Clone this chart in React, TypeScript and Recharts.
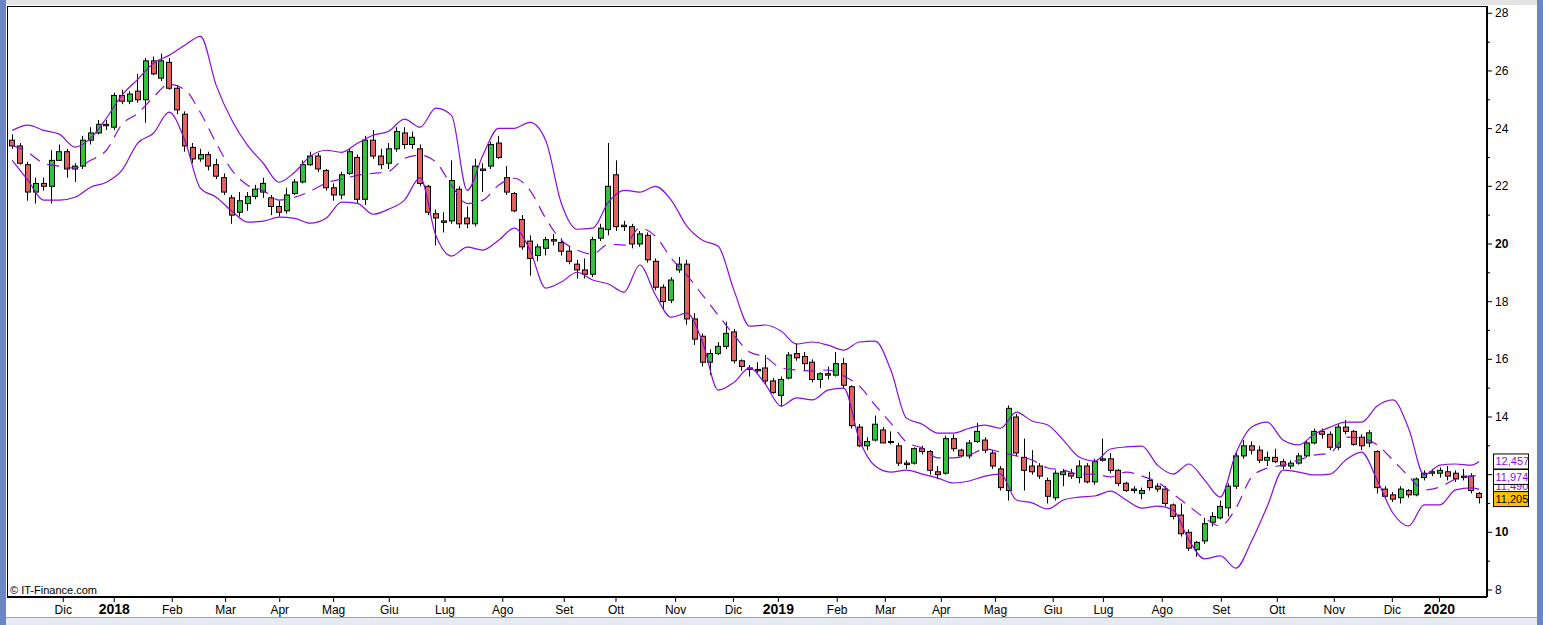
import React from "react";
import { ComposedChart, Bar, Line, XAxis, YAxis, ReferenceLine } from "recharts";

// 3-session candles, oldest first (Nov 2017 -> Jan 2020)
const opens = [
  23.6, 23.4, 22.75, 21.8, 22.1, 22.0, 22.9, 23.2, 22.6, 22.7,
  23.6, 23.85, 24.15, 24.05, 25.15, 24.95, 25.3, 25.0, 26.35, 25.75,
  26.3, 25.4, 24.5, 23.35, 22.95, 23.1, 22.75, 22.3, 21.6, 21.1,
  21.4, 21.65, 21.8, 21.6, 21.3, 21.15, 21.75, 22.15, 22.75, 23.05,
  22.55, 21.95, 21.7, 22.45, 23.0, 21.55, 23.6, 23.05, 22.8, 23.3,
  23.85, 23.45, 23.3, 22.0, 21.05, 20.8, 20.8, 21.9, 20.9, 20.7,
  22.6, 22.7, 23.5, 22.3, 21.75, 20.85, 20.1, 19.6, 19.85, 20.15,
  20.05, 19.75, 19.3, 19.1, 18.95, 20.2, 20.5, 22.4, 20.6, 20.6,
  20.0, 20.3, 19.4, 18.5, 18.05, 19.1, 19.3, 17.4, 16.8, 15.9,
  16.2, 16.45, 16.95, 15.95, 15.7, 15.65, 15.7, 15.25, 14.75, 15.35,
  16.2, 16.1, 15.9, 15.3, 15.5, 15.45, 15.85, 15.05, 13.65, 13.0,
  13.2, 13.55, 13.15, 13.0, 12.4, 12.4, 12.9, 12.8, 12.1, 12.05,
  13.25, 12.85, 12.65, 13.15, 13.2, 12.75, 12.2, 11.45, 14.0, 12.6,
  12.3, 12.3, 11.8, 11.2, 12.0, 12.05, 11.9, 12.3, 11.75, 12.5,
  12.55, 12.15, 11.7, 11.45, 11.35, 11.8, 11.6, 11.5, 10.95, 10.6,
  10.0, 9.4, 9.7, 10.35, 10.5, 10.85, 11.6, 12.65, 13.0, 12.85,
  12.5, 12.6, 12.45, 12.3, 12.4, 12.65, 13.1, 13.5, 13.4, 12.95,
  13.65, 13.5, 13.3, 13.1, 12.8, 11.5, 11.3, 11.2, 11.45, 11.3,
  11.9, 12.05, 12.05, 12.1, 12.05, 11.9, 11.95, 11.35,
];
const highs = [
  23.8, 23.5, 22.85, 22.3, 22.3, 23.25, 23.45, 23.3, 22.8, 23.75,
  24.05, 24.3, 24.3, 25.25, 25.35, 25.3, 25.9, 26.45, 26.5, 26.6,
  26.45, 25.5, 24.6, 23.5, 23.3, 23.2, 22.95, 22.45, 21.7, 21.8,
  21.8, 22.05, 22.3, 21.7, 21.5, 21.95, 22.25, 22.9, 23.2, 23.15,
  22.6, 22.1, 22.5, 23.3, 23.1, 23.75, 23.95, 23.3, 23.5, 24.05,
  24.05, 23.9, 23.45, 22.05, 21.2, 21.1, 22.9, 22.0, 21.3, 22.95,
  22.8, 23.55, 23.75, 22.7, 21.8, 21.0, 20.3, 20.0, 20.25, 20.35,
  20.2, 19.9, 19.45, 19.5, 20.25, 20.7, 23.5, 22.9, 20.8, 20.7,
  20.45, 20.4, 19.5, 18.6, 18.85, 19.55, 19.45, 17.6, 16.9, 16.35,
  16.6, 17.3, 17.05, 16.0, 15.8, 15.9, 16.15, 15.35, 15.4, 16.25,
  16.55, 16.25, 16.0, 15.55, 15.75, 16.25, 16.05, 15.1, 13.75, 13.3,
  14.05, 13.65, 13.5, 13.1, 12.5, 12.95, 13.0, 12.85, 12.3, 13.35,
  13.4, 12.9, 13.2, 13.8, 13.3, 12.85, 12.3, 14.4, 14.1, 13.25,
  12.85, 12.4, 11.9, 12.15, 12.2, 12.2, 12.5, 12.4, 12.55, 13.25,
  12.75, 12.2, 11.75, 11.6, 11.55, 12.1, 11.7, 11.6, 11.0, 11.0,
  10.1, 9.7, 10.5, 10.7, 11.1, 11.7, 12.75, 13.2, 13.15, 13.0,
  12.8, 12.9, 12.55, 12.5, 12.75, 13.2, 13.6, 13.6, 13.5, 13.75,
  13.9, 13.55, 13.4, 13.55, 12.85, 11.6, 11.4, 11.6, 11.5, 11.9,
  12.15, 12.2, 12.25, 12.3, 12.15, 12.2, 12.05, 11.4,
];
const lows = [
  23.3, 22.75, 21.5, 21.4, 21.85, 21.4, 22.9, 22.3, 22.15, 22.6,
  23.45, 23.8, 23.95, 23.95, 24.85, 24.85, 24.9, 24.2, 25.85, 25.65,
  25.35, 24.5, 23.2, 22.8, 22.85, 22.55, 22.25, 21.7, 20.7, 20.95,
  21.15, 21.55, 21.6, 21.0, 20.95, 21.05, 21.7, 22.1, 22.7, 22.5,
  21.85, 21.5, 21.55, 22.4, 21.4, 21.35, 22.95, 22.6, 22.6, 23.2,
  23.3, 23.3, 22.0, 21.0, 19.95, 20.4, 20.7, 20.55, 20.55, 20.6,
  21.8, 22.6, 22.95, 21.7, 21.1, 19.8, 18.9, 19.4, 19.6, 19.95,
  19.6, 19.3, 18.8, 18.8, 18.85, 20.1, 20.3, 20.45, 20.45, 19.85,
  19.9, 19.35, 18.4, 17.7, 17.95, 19.0, 17.2, 16.5, 15.75, 15.45,
  16.15, 16.35, 15.85, 15.6, 15.4, 15.5, 15.15, 14.8, 14.35, 15.3,
  15.95, 15.6, 15.2, 15.0, 15.3, 15.4, 15.0, 13.6, 12.95, 12.85,
  13.15, 13.1, 13.05, 12.3, 12.2, 12.35, 12.7, 12.0, 11.85, 12.0,
  12.8, 12.6, 12.55, 13.1, 12.75, 12.2, 11.45, 11.1, 12.65, 11.45,
  12.0, 11.85, 11.0, 11.1, 11.6, 11.85, 11.7, 11.7, 11.65, 12.45,
  12.05, 11.6, 11.4, 11.35, 11.15, 11.45, 11.4, 10.9, 10.45, 9.85,
  9.35, 9.15, 9.6, 10.2, 10.45, 10.55, 11.5, 12.55, 12.7, 12.4,
  12.3, 12.4, 12.2, 12.2, 12.35, 12.6, 13.05, 13.25, 12.85, 12.85,
  13.4, 13.0, 12.85, 12.95, 11.35, 11.15, 11.05, 11.0, 11.2, 11.25,
  11.8, 11.95, 11.9, 11.8, 11.75, 11.8, 11.35, 11.0,
];
const closes = [
  23.4, 22.8, 21.8, 22.1, 22.0, 22.9, 23.2, 22.6, 22.7, 23.6,
  23.85, 24.15, 24.1, 25.15, 24.95, 25.2, 25.0, 26.35, 25.9, 26.35,
  25.4, 24.65, 23.4, 22.95, 23.1, 22.7, 22.35, 21.8, 21.0, 21.5,
  21.65, 21.9, 22.1, 21.3, 21.1, 21.7, 22.15, 22.75, 23.05, 22.6,
  21.95, 21.7, 22.4, 23.2, 21.55, 23.6, 23.05, 22.75, 23.3, 23.9,
  23.45, 23.7, 22.1, 21.1, 20.9, 20.75, 22.2, 20.7, 20.7, 22.7,
  22.55, 23.45, 23.0, 21.8, 21.15, 19.9, 19.5, 19.9, 20.15, 20.1,
  19.75, 19.4, 19.1, 18.95, 20.15, 20.55, 22.0, 20.6, 20.65, 20.0,
  20.35, 19.45, 18.5, 18.0, 18.75, 19.3, 17.4, 16.7, 15.9, 16.2,
  16.45, 16.9, 15.95, 15.75, 15.65, 15.6, 15.25, 14.85, 15.3, 16.15,
  16.05, 15.85, 15.3, 15.5, 15.45, 15.85, 15.1, 13.7, 13.0, 13.15,
  13.75, 13.1, 13.15, 12.4, 12.35, 12.9, 12.8, 12.15, 12.0, 13.25,
  12.9, 12.65, 13.1, 13.5, 12.85, 12.3, 11.55, 14.3, 12.75, 12.15,
  12.1, 11.95, 11.25, 12.05, 12.1, 11.95, 12.3, 11.75, 12.45, 12.55,
  12.15, 11.7, 11.45, 11.5, 11.45, 11.55, 11.5, 11.0, 10.55, 9.95,
  9.45, 9.65, 10.3, 10.55, 10.9, 11.6, 12.65, 13.0, 12.85, 12.5,
  12.6, 12.45, 12.3, 12.4, 12.65, 13.1, 13.5, 13.4, 12.95, 13.65,
  13.5, 13.05, 13.0, 13.45, 11.55, 11.25, 11.15, 11.5, 11.3, 11.85,
  12.05, 12.1, 12.15, 11.95, 11.85, 11.95, 11.45, 11.205,
];

// Bollinger bands, read every second candle (last entry = last candle)
const bandUpper = [
  23.94, 24.12, 23.94, 23.81, 23.36, 23.67, 24.36, 25.16, 25.71, 26.27,
  26.54, 26.89, 27.2, 25.5, 24.29, 23.42, 22.8, 22.14, 22.49, 23.04,
  23.25, 23.18, 23.49, 23.77, 23.91, 24.33, 24.05, 24.71, 24.46, 21.86,
  23.08, 24.01, 24.01, 24.22, 23.6, 21.41, 20.51, 20.55, 21.45, 21.86,
  21.8, 22.0, 21.52, 20.62, 20.13, 19.92, 18.4, 17.15, 17.19, 16.98,
  16.53, 16.6, 16.49, 16.32, 16.6, 16.63, 15.63, 13.96, 13.75, 13.44,
  13.44, 13.61, 13.72, 13.61, 14.17, 13.86, 13.72, 13.2, 12.61, 12.47,
  12.89, 12.96, 12.99, 12.33, 12.02, 12.37, 11.81, 11.22, 12.75, 13.65,
  13.82, 13.2, 13.03, 13.41, 13.65, 13.82, 13.82, 14.38, 14.59, 13.61,
  11.99, 12.33, 12.37, 12.33, 12.457,
];
const bandMid = [
  23.42, 23.18, 22.8, 22.7, 22.63, 22.9, 23.25, 24.15, 24.53, 25.09,
  25.54, 25.35, 24.55, 23.5, 22.56, 22.04, 21.86, 21.52, 21.62, 21.83,
  22.11, 22.25, 22.38, 22.45, 22.52, 22.97, 23.08, 22.84, 22.04, 21.4,
  21.52, 22.04, 22.28, 21.86, 20.89, 20.13, 19.79, 19.65, 19.99, 19.96,
  20.55, 20.27, 19.51, 18.92, 18.23, 17.53, 16.84, 16.25, 16.08, 15.7,
  15.63, 15.59, 15.63, 15.42, 15.07, 14.41, 13.79, 13.13, 12.92, 12.58,
  12.58, 12.68, 12.89, 12.78, 12.65, 12.51, 12.23, 12.16, 12.02, 12.02,
  11.92, 12.09, 11.95, 11.74, 11.33, 10.91, 10.5, 10.22, 10.84, 11.92,
  12.23, 12.33, 12.51, 12.68, 12.75, 13.3, 13.27, 13.03, 12.51, 11.95,
  11.47, 11.57, 11.85, 11.95, 11.974,
];
const bandLower = [
  22.9, 22.21, 21.52, 21.52, 21.62, 21.97, 22.14, 22.56, 23.5, 23.84,
  24.57, 23.6, 21.93, 21.62, 21.14, 20.76, 20.79, 20.93, 20.89, 20.72,
  20.89, 21.45, 21.41, 21.03, 21.21, 21.52, 22.3, 20.3, 19.58, 19.89,
  19.79, 20.13, 20.55, 19.79, 18.47, 18.68, 19.02, 18.75, 18.61, 18.33,
  19.27, 18.23, 17.46, 17.6, 16.6, 14.93, 15.2, 15.7, 15.14, 14.38,
  14.66, 14.59, 14.93, 15.0, 13.2, 12.3, 12.09, 12.16, 12.02, 11.88,
  11.71, 11.78, 11.95, 12.02, 11.12, 11.02, 10.81, 11.12, 11.22, 11.26,
  11.43, 11.12, 10.84, 10.91, 10.77, 9.73, 9.08, 9.18, 8.76, 9.7,
  10.91, 12.16, 12.09, 11.99, 12.02, 12.51, 12.78, 11.81, 10.67, 10.22,
  10.95, 10.95, 11.47, 11.54, 11.49,
];

const monthTicks = [
  21.5, 41, 63.2, 83.6, 104.3, 124.9, 146.2, 167.5, 189.6, 213.1, 232.9, 255.7, 277.8,
  295, 317.5, 335.9, 357.3, 378, 400.1, 419.3, 441.8, 464.4, 485.8, 507.6, 529.8, 547.8,
];
const monthLabels = [
  "Dic", "2018", "Feb", "Mar", "Apr", "Mag", "Giu", "Lug", "Ago", "Set", "Ott", "Nov", "Dic",
  "2019", "Feb", "Mar", "Apr", "Mag", "Giu", "Lug", "Ago", "Set", "Ott", "Nov", "Dic", "2020",
];
const yTicks = [8, 9, 10, 11, 12, 13, 14, 15, 16, 17, 18, 19, 20, 21, 22, 23, 24, 25, 26, 27, 28];
// the 12 label sits under the last-value tags
const yHiddenLabels = [12];

const FIRST_SESSION = 2;
const SESSIONS_PER_CANDLE = 3;

const GREEN = "#33c23c";
const RED = "#e2625f";
const BAND = "#8a0ed8";
const FONT = "'Liberation Sans', Arial, sans-serif";

const rows: any[] = opens.map((o, k) => ({
  t: FIRST_SESSION + SESSIONS_PER_CANDLE * k,
  open: o,
  high: highs[k],
  low: lows[k],
  close: closes[k],
}));
bandUpper.forEach((v, i) => {
  const k = i < bandUpper.length - 1 ? i * 2 : rows.length - 1;
  rows[k].up = v;
  rows[k].mid = bandMid[i];
  rows[k].lo = bandLower[i];
});

const fmt = (v: number) => v.toFixed(3).replace(".", ",");

function Candle(props: any) {
  const { x, y, width, height, payload } = props;
  if (!payload || x == null) return null;
  const top = Math.min(y, y + height);
  const h = Math.abs(height);
  const { open, close, high, low } = payload;
  const toPx = (v: number) => (high === low ? top : top + ((high - v) / (high - low)) * h);
  const cx = Math.round(x + width / 2) + 0.5;
  const yo = toPx(open);
  const yc = toPx(close);
  const bodyTop = Math.min(yo, yc);
  const bodyH = Math.max(1, Math.abs(yo - yc));
  return (
    <g>
      <line x1={cx} x2={cx} y1={top} y2={top + h} stroke="#000" strokeWidth={1} />
      <rect
        x={Math.round(x) + 0.5}
        y={bodyTop}
        width={Math.round(width)}
        height={bodyH}
        fill={close >= open ? GREEN : RED}
        stroke="#000"
        strokeWidth={1}
      />
    </g>
  );
}

function XTick(props: any) {
  const { x, y, payload } = props;
  const i = monthTicks.indexOf(payload.value);
  const label = monthLabels[i] ?? "";
  const isYear = /^\d{4}$/.test(label);
  return (
    <g>
      <line x1={x} x2={x} y1={y} y2={y + 5} stroke="#000" strokeWidth={1} />
      <text
        x={x}
        y={y + 17}
        textAnchor="middle"
        fontFamily={FONT}
        fontSize={isYear ? 14 : 12}
        fontWeight={isYear ? "bold" : "normal"}
        fill="#000"
      >
        {label}
      </text>
    </g>
  );
}

function YTick(props: any) {
  const { x, y, payload } = props;
  const v = payload.value;
  const major = v % 2 === 0;
  return (
    <g>
      <line x1={x} x2={x + (major ? 5 : 3)} y1={y} y2={y} stroke="#000" strokeWidth={1} />
      {major && !yHiddenLabels.includes(v) && (
        <text
          x={x + 8}
          y={y + 4}
          fontFamily={FONT}
          fontSize={12}
          fontWeight={v % 10 === 0 ? "bold" : "normal"}
          fill="#000"
        >
          {v}
        </text>
      )}
    </g>
  );
}

function ValueTag(props: any) {
  const { viewBox, text, color, bg, dy } = props;
  if (!viewBox) return null;
  const x = viewBox.x + viewBox.width + 6;
  const y = viewBox.y + dy;
  return (
    <g>
      <rect x={x + 0.5} y={y - 7.5} width={35} height={15} fill={bg} stroke="#000" strokeWidth={1} />
      <text x={x + 2.5} y={y + 4} fontFamily={FONT} fontSize={11} fill={color}>
        {text}
      </text>
    </g>
  );
}

export default function App() {
  const lastUpper = bandUpper[bandUpper.length - 1];
  const lastMid = bandMid[bandMid.length - 1];
  const lastLower = bandLower[bandLower.length - 1];
  const lastClose = closes[closes.length - 1];
  return (
    <div style={{ position: "relative", width: 1543, height: 625, background: "#fff", overflow: "hidden" }}>
      <style>{`body{margin:0}`}</style>
      <div style={{ position: "absolute", left: 0, top: 0, width: 6, height: 625, background: "#6b86c5" }} />
      <div style={{ position: "absolute", left: 1537, top: 0, width: 6, height: 625, background: "#6b86c5" }} />
      <div style={{ position: "absolute", left: 6, top: 0, width: 1531, height: 5, background: "#e4e4e4" }} />
      <div style={{ position: "absolute", left: 7, top: 6, width: 1480, height: 1, background: "#000" }} />
      <div style={{ position: "absolute", left: 7, top: 6, width: 1, height: 591, background: "#000" }} />
      <div
        style={{
          position: "absolute",
          left: 6,
          top: 617,
          width: 1531,
          height: 8,
          background: "#e6ebf3",
          borderTop: "1px solid #9aa3b0",
        }}
      />
      <div style={{ position: "absolute", left: 0, top: 0 }}>
        <ComposedChart
          width={1536}
          height={617}
          data={rows}
          margin={{ top: 6, right: 0, bottom: 0, left: 7 }}
        >
          <XAxis
            dataKey="t"
            type="number"
            domain={[0, 566]}
            ticks={monthTicks}
            interval={0}
            tickSize={0}
            tickMargin={0}
            tickLine={false}
            axisLine={{ stroke: "#000", strokeWidth: 2 }}
            tick={<XTick />}
            height={20}
            allowDataOverflow
          />
          <YAxis
            orientation="right"
            type="number"
            domain={[7.757, 28.253]}
            ticks={yTicks}
            interval={0}
            tickSize={0}
            tickMargin={0}
            tickLine={false}
            axisLine={{ stroke: "#000", strokeWidth: 2 }}
            tick={<YTick />}
            width={49}
            allowDataOverflow
          />
          <Bar
            dataKey={(d: any) => [d.low, d.high]}
            barSize={5}
            shape={<Candle />}
            isAnimationActive={false}
          />
          <Line
            dataKey="up"
            type="monotone"
            stroke={BAND}
            strokeWidth={1.2}
            dot={false}
            connectNulls
            isAnimationActive={false}
          />
          <Line
            dataKey="mid"
            type="monotone"
            stroke={BAND}
            strokeWidth={1.2}
            strokeDasharray="12 8"
            dot={false}
            connectNulls
            isAnimationActive={false}
          />
          <Line
            dataKey="lo"
            type="monotone"
            stroke={BAND}
            strokeWidth={1.2}
            dot={false}
            connectNulls
            isAnimationActive={false}
          />
          <ReferenceLine
            y={lastLower}
            stroke="transparent"
            label={<ValueTag text={fmt(lastLower)} color={BAND} bg="#fff" dy={-3} />}
          />
          <ReferenceLine
            y={lastMid}
            stroke="transparent"
            label={<ValueTag text={fmt(lastMid)} color={BAND} bg="#fff" dy={1.5} />}
          />
          <ReferenceLine
            y={lastUpper}
            stroke="transparent"
            label={<ValueTag text={fmt(lastUpper)} color={BAND} bg="#fff" dy={0} />}
          />
          <ReferenceLine
            y={lastClose}
            stroke="transparent"
            label={<ValueTag text={fmt(lastClose)} color="#000" bg="#ffc000" dy={1.5} />}
          />
        </ComposedChart>
      </div>
      <div
        style={{
          position: "absolute",
          left: 10,
          top: 584,
          fontFamily: FONT,
          fontSize: 11,
          lineHeight: "12px",
          color: "#000",
        }}
      >
        © IT-Finance.com
      </div>
    </div>
  );
}
